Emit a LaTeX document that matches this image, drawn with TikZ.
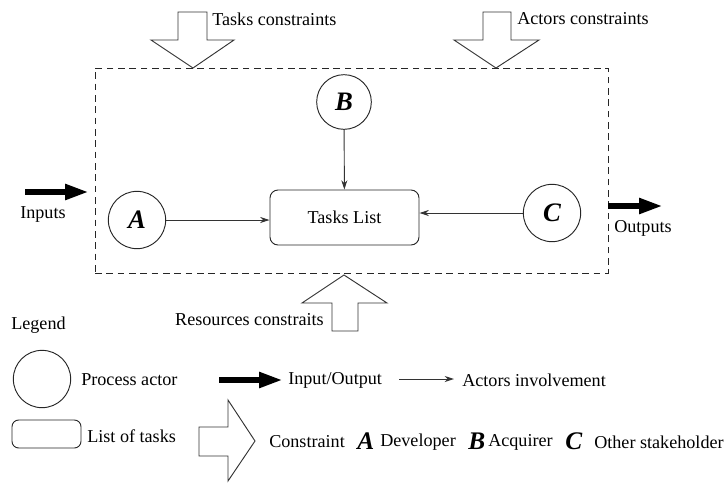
\documentclass[tikz,border=0pt]{standalone}
\usepackage{fontspec}
\setmainfont{Liberation Serif}
\usetikzlibrary{arrows.meta}
\begin{document}
\begin{tikzpicture}[x=0.75pt,y=-0.75pt,
  lbl/.style={inner sep=0pt,font=\fontsize{13.6}{16}\selectfont},
  actor/.style={circle,draw=black!85,line width=0.7pt,inner sep=0pt,minimum size=43pt,font=\fontsize{20}{22}\selectfont\bfseries\itshape},
  taskbox/.style={rectangle,rounded corners=6pt,draw=black!85,line width=0.7pt,font=\fontsize{13.6}{16}\selectfont},
  frame/.style={rectangle,draw=black!85,line width=0.7pt,dash pattern=on 5pt off 3.5pt,inner sep=0pt},
  bigletter/.style={inner sep=0pt,font=\fontsize{19}{21}\selectfont\bfseries\itshape},
  thinarrow/.style={draw=black!80,line width=0.7pt,-{Stealth[length=7pt,width=4.5pt]}},
  thickarrow/.style={draw=black,line width=5pt,-{Triangle[length=18pt,width=11pt]}},
  constraint/.style={draw=black!80,line width=0.7pt,fill=white,line join=miter}]
\useasboundingbox (0,0) rectangle (727,482);

% frame
\node[frame,minimum width=384.75pt,minimum height=153.75pt] (frame) at (351.5,170.5) {};

% constraint arrows
\draw[constraint] (178,12) -- (207,12) -- (207,40) -- (234,40) -- (193,68) -- (151,40) -- (178,40) -- cycle;
\draw[constraint] (483,12) -- (511,12) -- (511,40) -- (539,40) -- (496,68) -- (454,40) -- (483,40) -- cycle;
\draw[constraint] (332,331) -- (358,331) -- (358,303) -- (387,303) -- (344,275) -- (302,303) -- (332,303) -- cycle;
\node[lbl,anchor=west] (tc) at (212,19) {Tasks constraints};
\node[lbl,anchor=west] (ac) at (517,19) {Actors constraints};
\node[lbl,anchor=east] (rc) at (324,320) {Resources constraits};

% actors and tasks
\node[actor] (A) at (137,220) {A};
\node[actor,minimum size=41pt] (B) at (344,102) {B};
\node[actor] (C) at (552,213) {C};
\node[taskbox,minimum width=111.75pt,minimum height=41.25pt] (tasks) at (344.5,217.5) {Tasks List};

\draw[thinarrow] (A.east) -- (A.east -| tasks.west);
\draw[thinarrow] (C.west) -- (C.west -| tasks.east);
\draw[thinarrow] (B) -- (tasks);

% inputs / outputs
\coordinate (in0) at (25,192);
\coordinate (in1) at (89,192);
\draw[thickarrow] (in0) -- (in1);
\node[lbl,anchor=west] (inputs) at (20,214) {Inputs};
\coordinate (out0) at (608,206);
\coordinate (out1) at (663,206);
\draw[thickarrow] (out0) -- (out1);
\node[lbl,anchor=west] (outputs) at (614,228) {Outputs};

% legend
\node[lbl,anchor=west] (legend) at (11,325) {Legend};
\node[actor] (lgactor) at (42,379) {};
\node[lbl,anchor=west] (lgactortxt) at (81,380) {Process actor};
\coordinate (lio0) at (219,380);
\coordinate (lio1) at (283,380);
\draw[thickarrow] (lio0) -- (lio1);
\node[lbl,anchor=west] (liotxt) at (288,380) {Input/Output};
\coordinate (lai0) at (399,379);
\coordinate (lai1) at (454,379);
\draw[thinarrow] (lai0) -- (lai1);
\node[lbl,anchor=west] (laitxt) at (462,380) {Actors involvement};
\node[taskbox,minimum width=51.75pt,minimum height=21pt,inner sep=0pt,rounded corners=5pt] (lgtask) at (46.5,434) {};
\node[lbl,anchor=west] (lgtasktxt) at (87,436) {List of tasks};
\draw[constraint] (199,427) -- (228,427) -- (228,400) -- (255,441) -- (228,481) -- (228,456) -- (199,456) -- cycle;
\node[lbl,anchor=west] (lcon) at (269,442) {Constraint};
\node[bigletter,anchor=west] (lA) at (357,441) {A};
\node[lbl,anchor=west] (lAtxt) at (380,442) {Developer};
\node[bigletter,anchor=west] (lB) at (468,441) {B};
\node[lbl,anchor=west] (lBtxt) at (488,442) {Acquirer};
\node[bigletter,anchor=west] (lC) at (565,441) {C};
\node[lbl,anchor=west] (lCtxt) at (594,442) {Other stakeholder};
\end{tikzpicture}
\end{document}
